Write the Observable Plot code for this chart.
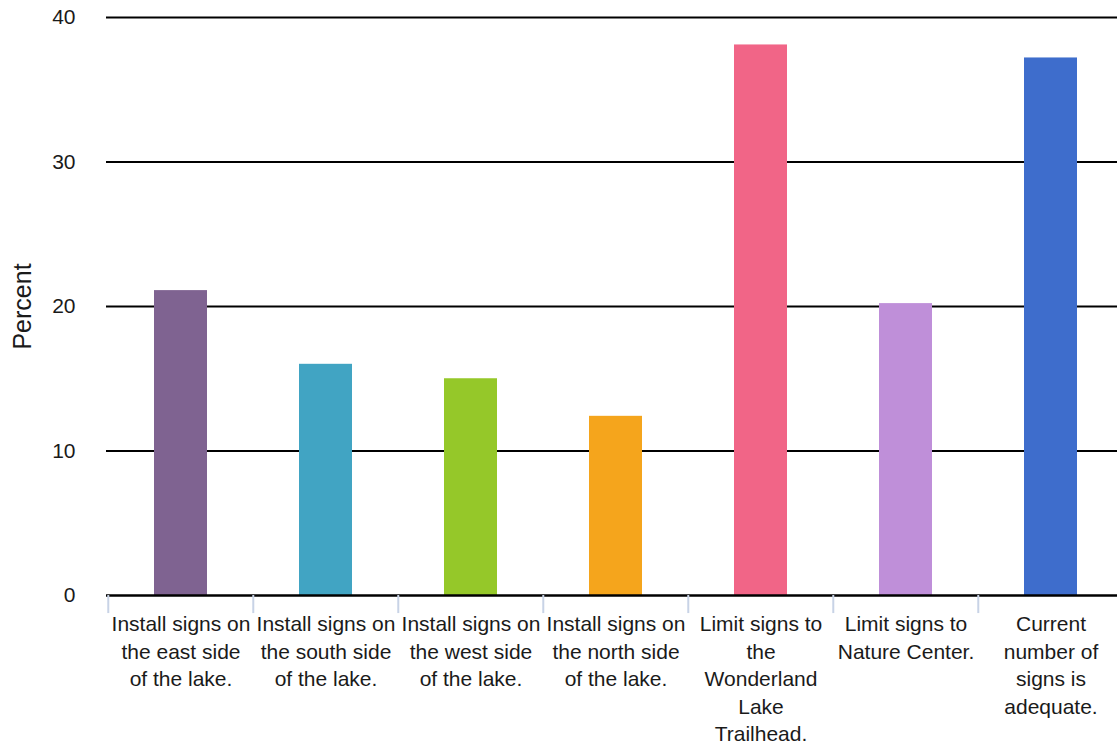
<!DOCTYPE html>
<html>
<head>
<meta charset="utf-8">
<script src="https://cdn.jsdelivr.net/npm/d3@7"></script>
<script src="https://cdn.jsdelivr.net/npm/@observablehq/plot@0.6"></script>
<style>
  html, body { margin: 0; padding: 0; background: #fff; overflow: hidden; }
  svg { display: block; }
</style>
</head>
<body>
<div id="chart"></div>
<script>
const categories = [
  "Install signs on the east side of the lake.",
  "Install signs on the south side of the lake.",
  "Install signs on the west side of the lake.",
  "Install signs on the north side of the lake.",
  "Limit signs to the Wonderland Lake Trailhead.",
  "Limit signs to Nature Center.",
  "Current number of signs is adequate."
];
const tickLabels = [
  "Install signs on\nthe east side\nof the lake.",
  "Install signs on\nthe south side\nof the lake.",
  "Install signs on\nthe west side\nof the lake.",
  "Install signs on\nthe north side\nof the lake.",
  "Limit signs to\nthe\nWonderland\nLake\nTrailhead.",
  "Limit signs to\nNature Center.",
  "Current\nnumber of\nsigns is\nadequate."
];
const percents = [21.1, 16.0, 15.0, 12.4, 38.1, 20.2, 37.2];
const colors = ["#7f6391", "#41a4c3", "#95c829", "#f5a51c", "#f16587", "#bf8fd9", "#3e6dcc"];
const yTicks = [0, 10, 20, 30, 40];

const data = categories.map((c, i) => ({category: c, value: percents[i], color: colors[i]}));
const labelOf = new Map(categories.map((c, i) => [c, tickLabels[i]]));

const W = 1117, H = 746;
const mL = 106, mT = 17, mB = 151;
const xRange = [106, 1124];
const step = (xRange[1] - xRange[0]) / categories.length;

const chart = Plot.plot({
  width: W,
  height: H,
  marginLeft: mL,
  marginRight: 0,
  marginTop: mT,
  marginBottom: mB,
  style: {fontFamily: "'Liberation Sans', Arial, Helvetica, sans-serif", fontSize: "21px", color: "#1a1a1a", background: "#fff"},
  x: {domain: categories, range: xRange, paddingInner: 0.635, paddingOuter: 0.3175, align: 0.5},
  y: {domain: [0, 40]},
  color: {type: "identity"},
  marks: [
    Plot.ruleY(yTicks.filter(d => d > 0), {y: d => d, stroke: "#000", strokeWidth: 2}),
    Plot.barY(data, {x: "category", y: "value", fill: "color"}),
    Plot.ruleY([0], {stroke: "#000", strokeWidth: 2.5}),
    Plot.ruleX(categories, {x: d => d, dx: -step / 2, y1: 0, y2: -1.25, stroke: "#c8d3e6", strokeWidth: 2, clip: false}),
    Plot.axisY({ticks: yTicks, tickSize: 0, tickPadding: 31, label: null, fontSize: 21}),
    Plot.axisX({tickSize: 0, tickPadding: 16, label: null, tickFormat: d => labelOf.get(d), lineHeight: 1.31, fontSize: 21, textAnchor: "middle"}),
    Plot.text(["Percent"], {text: d => d, frameAnchor: "left", textAnchor: "middle", rotate: -90, dx: -84, fontSize: 25, fill: "#1a1a1a"})
  ]
});
document.getElementById("chart").appendChild(chart);
</script>
</body>
</html>
